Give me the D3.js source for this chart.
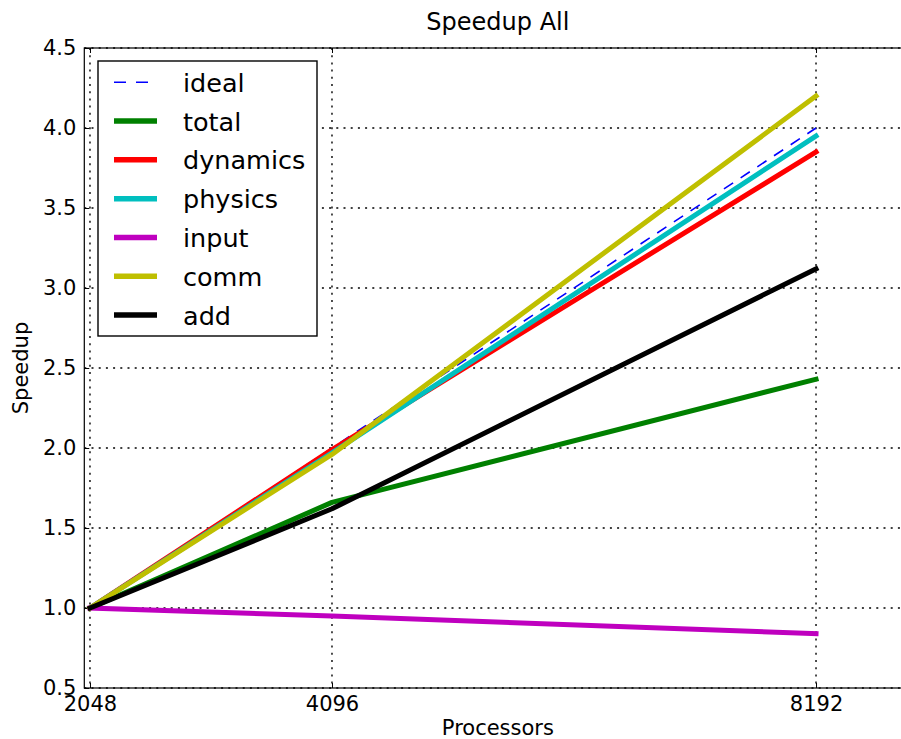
<!DOCTYPE html>
<html>
<head>
<meta charset="utf-8">
<script src="https://cdnjs.cloudflare.com/ajax/libs/d3/7.8.5/d3.min.js"></script>
<style>
  body { margin: 0; background: #fff; }
  svg { display: block; font-family: "DejaVu Sans", sans-serif; }
</style>
</head>
<body>
<div id="chart"></div>
<script>
// data
var processors = [2048, 4096, 8192];
var yTicks = [0.5, 1.0, 1.5, 2.0, 2.5, 3.0, 3.5, 4.0, 4.5];
var seriesNames = ["ideal", "total", "dynamics", "physics", "input", "comm", "add"];
var ideal    = [1.0, 2.0, 4.0];
var total    = [1.0, 1.66, 2.43];
var dynamics = [1.0, 1.99, 3.85];
var physics  = [1.0, 1.97, 3.95];
var input    = [1.0, 0.95, 0.84];
var comm     = [1.0, 1.96, 4.20];
var add      = [1.0, 1.62, 3.12];

var seriesValues = [ideal, total, dynamics, physics, input, comm, add];

//styles, kept apart from the data
var colors = {ideal:"#0000ff", total:"#008000", dynamics:"#ff0000", physics:"#00bfbf",
              input:"#bf00bf", comm:"#bfbf00", add:"#000000"};

var W = 901, H = 739;
var plotLeft = 84.3, plotRight = 911.5, plotTop = 48, plotBottom = 688;

var svg = d3.select("#chart").append("svg")
    .attr("width", W)
    .attr("height", H);

var x = d3.scaleLinear().domain([2000, 9000]).range([plotLeft, plotRight]);
var y = d3.scaleLinear().domain([0.5, 4.5]).range([plotBottom, plotTop]);

//grid
var grid = svg.append("g").attr("class", "grid")
    .attr("stroke", "#000").attr("stroke-width", 1.4).attr("stroke-dasharray", "2,5.2");
grid.selectAll("line.v").data(processors).enter().append("line")
    .attr("x1", d => x(d)).attr("x2", d => x(d))
    .attr("y1", plotTop).attr("y2", plotBottom);
grid.selectAll("line.h").data(yTicks).enter().append("line")
    .attr("y1", d => y(d)).attr("y2", d => y(d))
    .attr("x1", plotLeft).attr("x2", plotRight);

// axes, ticks pointing in like matplotlib classic
svg.append("g")
    .attr("transform", "translate(0," + plotBottom + ")")
    .call(d3.axisBottom(x).tickValues(processors).tickSize(-5).tickSizeOuter(0).tickPadding(8).tickFormat(d3.format("d")));
svg.append("g")
    .attr("transform", "translate(0," + plotTop + ")")
    .call(d3.axisTop(x).tickValues(processors).tickSize(-5).tickSizeOuter(0).tickFormat(""));
svg.append("g")
    .attr("transform", "translate(" + plotLeft + ",0)")
    .call(d3.axisLeft(y).tickValues(yTicks).tickSize(-5).tickSizeOuter(0).tickPadding(8).tickFormat(d3.format(".1f")));
svg.append("g")
    .attr("transform", "translate(" + plotRight + ",0)")
    .call(d3.axisRight(y).tickValues(yTicks).tickSize(-5).tickSizeOuter(0).tickFormat(""));

svg.selectAll(".domain").remove();
svg.selectAll(".tick line").attr("stroke", "#000").attr("stroke-width", 1);
svg.selectAll(".tick text")
    .attr("fill", "#000")
    .style("font-family", "DejaVu Sans")
    .style("font-size", "21px");

//data lines
var line = d3.line()
    .x((d, i) => x(processors[i]))
    .y(d => y(d));

var lines = svg.append("g").attr("class", "lines");
seriesNames.forEach(function(name, k){
  var p = lines.append("path")
    .datum(seriesValues[k])
    .attr("d", line)
    .attr("fill", "none")
    .attr("stroke", colors[name]);
  if (name == "ideal") {
    p.attr("stroke-width", 1.6).attr("stroke-dasharray", "11,9");
  } else {
    p.attr("stroke-width", 5).attr("stroke-linecap", "square").attr("stroke-linejoin", "round");
  }
});

//frame
svg.append("rect")
    .attr("x", plotLeft).attr("y", plotTop)
    .attr("width", plotRight - plotLeft).attr("height", plotBottom - plotTop)
    .attr("fill", "none").attr("stroke", "#000").attr("stroke-width", 1.2);

// title + labels
svg.append("text")
    .attr("x", (plotLeft + plotRight) / 2).attr("y", 30)
    .attr("text-anchor", "middle")
    .style("font-size", "24px")
    .text("Speedup All");

svg.append("text")
    .attr("x", (plotLeft + plotRight) / 2).attr("y", 735)
    .attr("text-anchor", "middle")
    .style("font-size", "21px")
    .text("Processors");

svg.append("text")
    .attr("transform", "translate(28," + (plotTop + plotBottom) / 2 + ") rotate(-90)")
    .attr("text-anchor", "middle")
    .style("font-size", "21px")
    .text("Speedup");

//legend
var legend = svg.append("g").attr("class", "legend");
legend.append("rect")
    .attr("x", 98).attr("y", 61)
    .attr("width", 219).attr("height", 275)
    .attr("fill", "#fff").attr("stroke", "#000").attr("stroke-width", 1.4);

var rowY = d3.scaleLinear().domain([0, seriesNames.length - 1]).range([82.3, 315]);

var rows = legend.selectAll("g.row").data(seriesNames).enter().append("g")
    .attr("class", "row")
    .attr("transform", (d, i) => "translate(0," + rowY(i) + ")");

rows.append("line")
    .attr("x1", 114).attr("x2", 157)
    .attr("stroke", d => colors[d])
    .attr("stroke-width", d => d == "ideal" ? 1.6 : 5.5)
    .attr("stroke-dasharray", d => d == "ideal" ? "12,10" : null);

rows.append("text")
    .attr("x", 183).attr("y", 9.5)
    .style("font-size", "25.5px")
    .text(d => d);
</script>
</body>
</html>
